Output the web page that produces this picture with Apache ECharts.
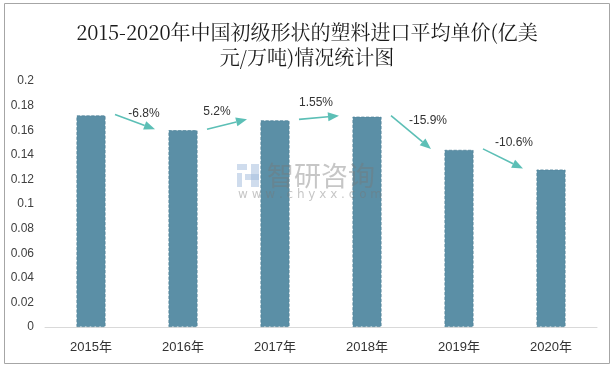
<!DOCTYPE html>
<html>
<head>
<meta charset="utf-8">
<script src="https://cdn.jsdelivr.net/npm/echarts@6/dist/echarts.min.js"></script>
<style>html,body{margin:0;padding:0;background:#fff}#c{width:614px;height:368px}</style>
</head>
<body>
<div id="c"></div>
<script>
const categories = ['2015年', '2016年', '2017年', '2018年', '2019年', '2020年'];
const prices = [0.172, 0.160, 0.168, 0.171, 0.144, 0.128];
const changes = ['-6.8%', '5.2%', '1.55%', '-15.9%', '-10.6%'];
const yTicks = [0, 0.02, 0.04, 0.06, 0.08, 0.1, 0.12, 0.14, 0.16, 0.18, 0.2];
const titleLines = ['2015-2020年中国初级形状的塑料进口平均单价(亿美', '元/万吨)情况统计图'];

// label offsets (px) relative to arrow midpoint — styling only
const labelOffsets = [[9, -8], [-10, -13], [-3, -15], [17, -12], [11, -16]];

const arrowData = changes.map((c, i) => [i, prices[i], prices[i + 1], c]);

const chart = echarts.init(document.getElementById('c'), null, {renderer: 'canvas'});
const arrowColor = '#5cbfb6';

chart.setOption({
  animation: false,
  backgroundColor: '#fff',
  title: {
    text: titleLines.join('\n'),
    left: 'center',
    top: 15,
    textStyle: {
      fontSize: 20,
      fontWeight: 'normal',
      color: '#1a1a1a',
      lineHeight: 25,
      fontFamily: "'Noto Serif CJK SC','Liberation Serif','Noto Sans CJK SC',serif"
    }
  },
  grid: {left: 45, right: 17, top: 81, bottom: 41, containLabel: false},
  xAxis: {
    type: 'category',
    data: categories,
    axisLine: {lineStyle: {color: '#d9d9d9', width: 1}},
    axisTick: {show: false},
    axisLabel: {color: '#333', fontSize: 13, margin: 14, fontFamily: "'Liberation Sans','Noto Sans CJK SC',sans-serif"}
  },
  yAxis: {
    type: 'value',
    min: 0, max: 0.2, interval: 0.02,
    splitLine: {show: false},
    axisLine: {show: false},
    axisTick: {show: false},
    axisLabel: {
      color: '#404040', fontSize: 12, margin: 11,
      fontFamily: "'Liberation Sans',sans-serif",
      formatter: v => {
        const t = yTicks.find(x => Math.abs(x - v) < 1e-9);
        return String(+(t !== undefined ? t : v).toFixed(2));
      }
    }
  },
  graphic: [
    {type: 'rect', shape: {x: 4.5, y: 3.5, width: 605, height: 360}, style: {fill: 'none', stroke: '#a6a6a6', lineWidth: 1}, z: 100},
    {type: 'group', left: 237, top: 164, z: 100, children: [
      {type: 'rect', shape: {x: 0, y: 0, width: 10, height: 6}, style: {fill: 'rgba(160,185,220,0.5)'}},
      {type: 'rect', shape: {x: 0, y: 9, width: 5, height: 14}, style: {fill: 'rgba(160,185,220,0.5)'}},
      {type: 'rect', shape: {x: 8, y: 10, width: 14, height: 6}, style: {fill: 'rgba(160,185,220,0.5)'}},
      {type: 'rect', shape: {x: 14, y: 0, width: 8, height: 23}, style: {fill: 'rgba(160,185,220,0.5)'}}
    ]},
    {type: 'text', left: 267, top: 162, z: 100, style: {text: '智研咨询', fontSize: 27, fill: 'rgba(120,120,120,0.42)', fontFamily: "'Noto Sans CJK SC',sans-serif"}},
    {type: 'text', left: 238, top: 189, z: 100, style: {text: 'w w w . c h y x x . c o m', fontSize: 12, fill: 'rgba(120,120,120,0.42)', fontFamily: "'DejaVu Sans',sans-serif"}}
  ],
  series: [
    {
      type: 'bar',
      data: prices,
      barWidth: 29,
      itemStyle: {color: '#5b8fa6', borderColor: '#51849a', borderWidth: 0.8, borderType: 'dashed'},
      z: 2
    },
    {
      type: 'custom',
      data: arrowData,
      encode: {x: 0, y: 1},
      clip: false,
      z: 5,
      renderItem: function (params, api) {
        const i = api.value(0);
        const p0 = api.coord([i, api.value(1)]);
        const p1 = api.coord([i + 1, api.value(2)]);
        const sx = p0[0] + 24, sy = p0[1] - 1;
        const ex = p1[0] - 28, ey = p1[1] - 1;
        const dx = ex - sx, dy = ey - sy;
        const len = Math.sqrt(dx * dx + dy * dy);
        const ux = dx / len, uy = dy / len;
        const hl = 11, hw = 4.5;
        const bx = ex - ux * hl, by = ey - uy * hl;
        const nx = -uy, ny = ux;
        const off = labelOffsets[params.dataIndex];
        const mx = (sx + ex) / 2 + off[0], my = (sy + ey) / 2 + off[1];
        return {
          type: 'group',
          children: [
            {type: 'line', shape: {x1: sx, y1: sy, x2: bx, y2: by}, style: {stroke: arrowColor, lineWidth: 1.6}},
            {type: 'polygon', shape: {points: [[ex, ey], [bx + nx * hw, by + ny * hw], [bx - nx * hw, by - ny * hw]]}, style: {fill: arrowColor}},
            {type: 'text', x: mx, y: my, style: {text: changes[params.dataIndex], fontSize: 12, fill: '#333', align: 'center', verticalAlign: 'middle', fontFamily: "'Liberation Sans',sans-serif"}}
          ]
        };
      }
    }
  ]
});
</script>
</body>
</html>
